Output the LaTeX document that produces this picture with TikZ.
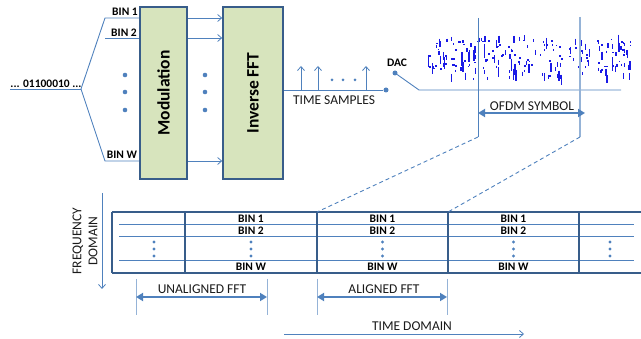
\documentclass[tikz,border=0pt]{standalone}
\usepackage{fontspec}
\setmainfont{Carlito}
\usetikzlibrary{arrows.meta}
\definecolor{lblue}{HTML}{4F81BD}
\definecolor{dblue}{HTML}{385D8A}
\definecolor{gfill}{HTML}{D7E4BD}
\definecolor{noisec}{HTML}{1A1AE6}
\definecolor{pale}{HTML}{95B3D7}
\definecolor{txt}{HTML}{1A1A1A}
\begin{document}
\begin{tikzpicture}[x=1pt,y=-1pt,
  blk/.style={draw=dblue, line width=1.6pt, fill=gfill, minimum width=#1, minimum height=172pt, inner sep=0pt},
  conn/.style={draw=lblue, line width=0.9pt},
  opentip/.style={-{Straight Barb[length=4pt,width=7pt,line width=0.8pt]}},
  dbl/.style={draw=lblue, line width=2pt, {Triangle[length=7pt,width=8pt]}-{Triangle[length=7pt,width=8pt]}},
  binlbl/.style={font=\fontsize{11.5}{12}\selectfont\bfseries, inner sep=0pt, text=black},
  reglbl/.style={font=\fontsize{13.5}{14}\selectfont, inner sep=0pt, text=txt},
  bigbold/.style={font=\fontsize{17.5}{18}\selectfont\bfseries, inner sep=0pt, rotate=90},
  bdot/.style={circle, fill=lblue, inner sep=0pt, minimum size=#1},
  frame/.style={draw=dblue, line width=2pt},
  rowl/.style={draw=lblue, line width=0.9pt},
  tick/.style={draw=pale, line width=1pt}
]
\useasboundingbox (0,0) rectangle (641,339);

% ---------- top part ----------
\node[binlbl] (bits) at (46,84) {... 01100010 ...};
\coordinate (bitsL) at (10,89);
\coordinate (fork) at (81,89);
\draw[conn] (bitsL) -- (fork);

\node[blk=47pt] (mod) at (163.5,93) {};
\node[bigbold] (modtxt) at (mod) {Modulation};
\node[blk=60pt] (ifft) at (253,93) {};
\node[bigbold] (iffttxt) at (ifft) {Inverse FFT};

\coordinate (b1k) at (105,18);
\coordinate (b2k) at (105,38);
\coordinate (bwk) at (105,161);
\draw[conn] (fork) -- (b1k) -- (mod.west |- b1k);
\draw[conn] (b2k) -- (mod.west |- b2k);
\draw[conn] (fork) -- (bwk) -- (mod.west |- bwk);
\node[binlbl] (bin1t) at (125,12) {BIN 1};
\node[binlbl] (bin2t) at (124,33) {BIN 2};
\node[binlbl] (binwt) at (122,155) {BIN W};
\foreach \yy [count=\k] in {75,92,110}{
  \node[bdot=4.6pt] (ld\k) at (125,\yy) {};
  \node[bdot=4.6pt] (md\k) at (205,\yy) {};
}
\foreach \yy in {18,38,161}{
  \draw[conn,opentip] (mod.east |- 0,\yy) -- (ifft.west |- 0,\yy);
}

% time samples
\node[bdot=5pt] (dacin) at (386,90) {};
\draw[conn] (ifft.east |- dacin) -- (dacin);
\foreach \xx [count=\k] in {301,318,366}{
  \coordinate (ts\k) at (\xx,90);
  \coordinate (tt\k) at (\xx,66);
  \draw[conn,opentip] (ts\k) -- (tt\k);
}
\foreach \xx [count=\k] in {332,343,355}{ \node[bdot=3pt] (tsd\k) at (\xx,80) {}; }
\node[reglbl] (tslbl) at (334,100) {TIME SAMPLES};

% DAC
\node[bdot=5pt] (dacout) at (395,73) {};
\node[binlbl] (daclbl) at (397,63) {DAC};
\coordinate (dacbend) at (419,90);
\coordinate (baseR) at (621,90);
\draw[conn] (dacout) -- (dacbend) -- (baseR);

% noise signal
\pgfmathsetseed{4242}
\foreach \i in {1,...,150}{
  \pgfmathsetmacro\nx{427+204*rnd}
  \pgfmathsetmacro\ny{38+42*rnd}
  \pgfmathsetmacro\nl{1.5+14*rnd*rnd}
  \draw[noisec, line width=1.3pt] (\nx,\ny-\nl/2) -- (\nx,\ny+\nl/2);
}
\foreach \i in {1,...,70}{
  \pgfmathsetmacro\nx{427+204*rnd}
  \pgfmathsetmacro\ny{40+30*rnd}
  \fill[noisec] (\nx-0.9,\ny-0.9) rectangle (\nx+0.9,\ny+0.9);
}

% OFDM symbol
\coordinate (oA) at (478,18);
\coordinate (oAb) at (478,137);
\coordinate (oB) at (580,17);
\coordinate (oBb) at (580,137);
\draw[draw=lblue, line width=1pt] (oA) -- (oAb);
\draw[draw=pale, line width=1.2pt] (oB) -- (oBb);
\coordinate (oarrA) at (478,113);
\coordinate (oarrB) at (585,113);
\draw[dbl] (oarrA) -- (oarrB);
\node[reglbl] (ofdmlbl) at (532,106) {OFDM SYMBOL};

% ---------- bottom grid ----------
\coordinate (gTL) at (112,212);
\coordinate (gBL) at (112,273);
\coordinate (gTR) at (641,212);
\coordinate (gBR) at (641,273);
\foreach \yy in {224,236,260}{ \draw[rowl] (119,\yy) -- (634,\yy); }
\draw[frame] (gTL) -- (gTR);
\draw[frame] (gBL) -- (gBR);
\draw[draw=dblue, line width=1.1pt] (gTL) -- (gBL);
\foreach \xx [count=\k] in {185,317,448,579}{
  \coordinate (vt\k) at (\xx,212);
  \draw[frame] (vt\k) -- (\xx,273);
}
\foreach \cx [count=\k] in {251,382.5,513.5}{
  \node[binlbl] (g1\k) at (\cx,218.5) {BIN 1};
  \node[binlbl] (g2\k) at (\cx,230.5) {BIN 2};
  \node[binlbl] (gw\k) at (\cx,267) {BIN W};
}
\foreach \cx [count=\k] in {154,251,382.5,513.5,610}{
  \foreach \yy [count=\j] in {242,249,256}{ \node[bdot=3.4pt] (gd\k\j) at (\cx,\yy) {}; }
}

% dashed projections
\draw[lblue, line width=0.9pt, dashed, dash pattern=on 4pt off 3pt] (oAb) -- (vt2);
\draw[lblue, line width=0.9pt, dashed, dash pattern=on 4pt off 3pt] (oBb) -- (vt3);

% frequency domain
\coordinate (fA) at (102,193);
\coordinate (fB) at (102,289);
\draw[conn,opentip] (fA) -- (fB);
\node[reglbl, rotate=90, align=center, font=\fontsize{13.5}{16}\selectfont] (freqlbl) at (85,241) {FREQUENCY\\DOMAIN};

% unaligned / aligned
\coordinate (u1) at (136,279); \coordinate (u1b) at (136,315);
\coordinate (u2) at (267,279); \coordinate (u2b) at (267,315);
\coordinate (a1) at (317,279); \coordinate (a1b) at (317,315);
\coordinate (a2) at (447,279); \coordinate (a2b) at (447,315);
\draw[tick] (u1) -- (u1b);
\draw[tick] (u2) -- (u2b);
\draw[tick] (a1) -- (a1b);
\draw[tick] (a2) -- (a2b);
\draw[dbl] (136,297) -- (267,297);
\draw[dbl] (317,297) -- (447,297);
\node[reglbl] (ualbl) at (202,289) {UNALIGNED FFT};
\node[reglbl] (allbl) at (384,289) {ALIGNED FFT};

% time domain
\coordinate (tdA) at (284,334);
\coordinate (tdB) at (524,334);
\draw[conn,opentip] (tdA) -- (tdB);
\node[reglbl] (tdlbl) at (412,326) {TIME DOMAIN};
\end{tikzpicture}
\end{document}
